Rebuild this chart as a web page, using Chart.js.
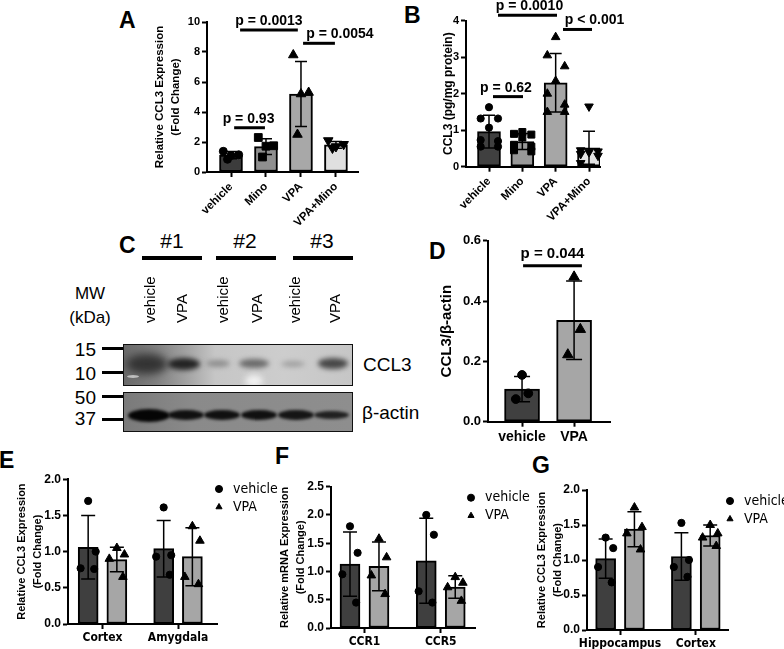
<!DOCTYPE html>
<html>
<head>
<meta charset="utf-8">
<script src="https://cdn.jsdelivr.net/npm/chart.js@4.4.1/dist/chart.umd.min.js"></script>
<style>
  body { margin: 0; background: #fff; }
  #fig { position: relative; width: 784px; height: 649px; overflow: hidden; font-family: "Liberation Sans", Arial, sans-serif; color: #000; }
  #fig canvas { position: absolute; }
  .L { position: absolute; font: bold 23px/1 "Liberation Sans", Arial, sans-serif; }
  .t { position: absolute; line-height: 1; white-space: nowrap; }
  .bar { position: absolute; background: #000; }
  .lane { position: absolute; width: 16px; height: 61px; top: 262px; font-size: 15px; line-height: 16px;
          writing-mode: vertical-rl; transform: rotate(180deg); white-space: nowrap; }
  .blot { position: absolute; box-sizing: border-box; border: 1.5px solid #111; overflow: hidden; }
  .blot i { position: absolute; border-radius: 50%; }
</style>
</head>
<body>
<div id="fig">
  <!-- letras dos paineis -->
  <div class="L" style="left:119px;top:9px">A</div>
  <div class="L" style="left:404px;top:4px">B</div>
  <div class="L" style="left:119px;top:234px">C</div>
  <div class="L" style="left:429px;top:240px">D</div>
  <div class="L" style="left:-1px;top:449px">E</div>
  <div class="L" style="left:275px;top:445px">F</div>
  <div class="L" style="left:532px;top:454px">G</div>

  <!-- painel C: western blot -->
  <div class="t" style="left:142px;top:230px;width:60px;text-align:center;font-size:21px">#1</div>
  <div class="t" style="left:215px;top:230px;width:60px;text-align:center;font-size:21px">#2</div>
  <div class="t" style="left:292px;top:230px;width:60px;text-align:center;font-size:21px">#3</div>
  <div class="bar" style="left:142px;top:256px;width:60px;height:4px"></div>
  <div class="bar" style="left:216px;top:256px;width:60px;height:4px"></div>
  <div class="bar" style="left:293px;top:256px;width:60px;height:4px"></div>

  <div class="lane" style="left:142px">vehicle</div>
  <div class="lane" style="left:174px">VPA</div>
  <div class="lane" style="left:215px">vehicle</div>
  <div class="lane" style="left:249px">VPA</div>
  <div class="lane" style="left:287px">vehicle</div>
  <div class="lane" style="left:327px">VPA</div>

  <div class="t" style="left:60px;top:285px;width:60px;text-align:center;font-size:17px">MW</div>
  <div class="t" style="left:60px;top:309px;width:60px;text-align:center;font-size:17px">(kDa)</div>

  <div class="t" style="left:56px;top:340px;width:40px;text-align:right;font-size:19px">15</div>
  <div class="t" style="left:56px;top:364px;width:40px;text-align:right;font-size:19px">10</div>
  <div class="t" style="left:56px;top:388px;width:40px;text-align:right;font-size:19px">50</div>
  <div class="t" style="left:56px;top:409px;width:40px;text-align:right;font-size:19px">37</div>
  <div class="bar" style="left:102px;top:347px;width:21px;height:3px"></div>
  <div class="bar" style="left:102px;top:371px;width:21px;height:3px"></div>
  <div class="bar" style="left:102px;top:395px;width:21px;height:3px"></div>
  <div class="bar" style="left:102px;top:418px;width:21px;height:3px"></div>

  <div class="blot" style="left:123px;top:344px;width:230px;height:42px;background:linear-gradient(90deg,#6a6a6a 0%,#808080 14%,#a4a4a4 28%,#c6c6c6 40%,#cdcdcd 70%,#c6c6c6 100%)">
    <i style="left:2px;top:9px;width:42px;height:20px;background:#333;filter:blur(4px)"></i>
    <i style="left:44px;top:13px;width:32px;height:12px;background:#232323;filter:blur(2.5px)"></i>
    <i style="left:82px;top:15px;width:24px;height:7px;background:#8e8e8e;filter:blur(2.5px)"></i>
    <i style="left:115px;top:14px;width:30px;height:9px;background:#6a6a6a;filter:blur(2.5px)"></i>
    <i style="left:157px;top:16px;width:24px;height:6px;background:#a0a0a0;filter:blur(2.5px)"></i>
    <i style="left:194px;top:13px;width:30px;height:11px;background:#474747;filter:blur(2.5px)"></i>
    <i style="left:121px;top:30px;width:18px;height:12px;background:#f2f2f2;filter:blur(3px)"></i>
    <i style="left:3px;top:30px;width:12px;height:3px;background:#bdbdbd;filter:blur(0.5px)"></i>
  </div>
  <div class="blot" style="left:123px;top:392px;width:230px;height:40px;background:linear-gradient(90deg,#7a7a7a 0%,#8a8a8a 30%,#8e8e8e 100%)">
    <i style="left:4px;top:16px;width:42px;height:13px;background:#050505;filter:blur(1.5px)"></i>
    <i style="left:44px;top:17px;width:36px;height:10px;background:#101010;filter:blur(1.5px)"></i>
    <i style="left:80px;top:17px;width:36px;height:10px;background:#101010;filter:blur(1.5px)"></i>
    <i style="left:117px;top:17px;width:36px;height:10px;background:#101010;filter:blur(1.5px)"></i>
    <i style="left:154px;top:17px;width:36px;height:10px;background:#151515;filter:blur(1.5px)"></i>
    <i style="left:190px;top:18px;width:35px;height:8px;background:#202020;filter:blur(1.5px)"></i>
  </div>
  <div class="t" style="left:363px;top:355px;font-size:19px">CCL3</div>
  <div class="t" style="left:362px;top:403px;font-size:19px">β-actin</div>

  <canvas id="cA" width="228" height="230" style="left:152px;top:0px"></canvas>
  <canvas id="cB" width="187" height="225" style="left:441px;top:0px"></canvas>
  <canvas id="cD" width="190" height="225" style="left:438px;top:225px"></canvas>
  <canvas id="cE" width="268" height="179" style="left:14px;top:470px"></canvas>
  <canvas id="cF" width="258" height="179" style="left:277px;top:470px"></canvas>
  <canvas id="cG" width="254" height="179" style="left:534px;top:470px"></canvas>
</div>

<script>
// --- A: CCL3 mRNA (fold change) ---
const aCats = ['vehicle', 'Mino', 'VPA', 'VPA+Mino'];
const aMean = [1.12, 1.69, 5.2, 1.81];
const aSD = [0.24, 0.53, 2.16, 0.22];
const aPts = [[1.38, 1.15, 1.1, 0.85], [2.3, 1.75, 1.72, 1.0], [7.8, 5.3, 5.2, 2.5], [2.1, 1.85, 1.7, 1.6]];
const aYTicks = [0, 2, 4, 6, 8, 10];
const aP = [
  { from: 1.26, to: 2.91, y: 9.47, text: 'p = 0.0013' },
  { from: 3.06, to: 3.97, y: 8.58, text: 'p = 0.0054' },
  { from: 1.09, to: 1.97, y: 2.95, text: 'p = 0.93' }
];

// --- B: CCL3 proteina ---
const bCats = ['vehicle', 'Mino', 'VPA', 'VPA+Mino'];
const bMean = [0.96, 0.69, 2.3, 0.52];
const bSD = [0.45, 0.22, 0.8, 0.45];
const bPts = [
  [1.63, 1.32, 1.32, 1.07, 0.73, 0.7, 0.55, 0.55],
  [0.95, 0.9, 0.88, 0.8, 0.6, 0.55, 0.45, 0.42],
  [3.55, 3.05, 2.75, 2.35, 2.0, 1.7, 1.5, 1.5],
  [1.65, 0.45, 0.42, 0.4, 0.35, 0.3, 0.1]
];
const bYTicks = [0, 1, 2, 3, 4];
const bP = [
  { from: 1.27, to: 3.04, y: 4.15, text: 'p = 0.0010' },
  { from: 3.22, to: 4.09, y: 3.76, text: 'p < 0.001' },
  { from: 1.12, to: 2.02, y: 1.92, text: 'p = 0.62' }
];

// --- D: CCL3/beta-actina ---
const dCats = ['vehicle', 'VPA'];
const dMean = [0.108, 0.336];
const dSD = [0.042, 0.13];
const dPts = [[0.155, 0.094, 0.075], [0.48, 0.306, 0.222]];
const dYTicks = [0, 0.2, 0.4, 0.6];
const dP = [{ from: 1.02, to: 2.15, y: 0.517, text: 'p = 0.044' }];

// --- E ---
const eCats = ['Cortex', 'Amygdala'];
const eVehMean = [1.06, 1.04];
const eVehSD = [0.44, 0.39];
const eVehPts = [[1.7, 1.0, 0.77, 0.76], [1.61, 0.95, 0.93, 0.68]];
const eVpaMean = [0.89, 0.93];
const eVpaSD = [0.17, 0.4];
const eVpaPts = [[1.05, 0.96, 0.9, 0.65], [1.35, 1.15, 0.65, 0.55]];
const eYTicks = [0, 0.5, 1, 1.5, 2];

// --- F ---
const fCats = ['CCR1', 'CCR5'];
const fVehMean = [1.13, 1.19];
const fVehSD = [0.57, 0.75];
const fVehPts = [[1.8, 1.33, 0.95, 0.45], [2.0, 1.65, 0.65, 0.45]];
const fVpaMean = [1.09, 0.725];
const fVpaSD = [0.43, 0.2];
const fVpaPts = [[1.58, 1.25, 0.93, 0.6], [0.9, 0.8, 0.72, 0.48]];
const fYTicks = [0, 0.5, 1, 1.5, 2, 2.5];

// --- G ---
const gCats = ['Hippocampus', 'Cortex'];
const gVehMean = [1.02, 1.05];
const gVehSD = [0.28, 0.34];
const gVehPts = [[1.32, 1.17, 0.9, 0.68], [1.53, 1.0, 0.9, 0.76]];
const gVpaMean = [1.44, 1.35];
const gVpaSD = [0.25, 0.15];
const gVpaPts = [[1.75, 1.47, 1.38, 1.15], [1.5, 1.38, 1.32, 1.2]];
const gYTicks = [0, 0.5, 1, 1.5, 2];

// ---------------------------------------------------------------
const sans = '"Liberation Sans", Arial, sans-serif';
const narrow = '"Liberation Sans Narrow", "Arial Narrow", "DejaVu Sans Condensed", sans-serif';
Chart.defaults.font.family = sans;
Chart.defaults.color = '#000';
Chart.defaults.animation = false;
Chart.defaults.events = [];
Chart.defaults.plugins.tooltip.enabled = false;

const SHAPE = {
  circle: { style: 'circle', r: 4, rot: 0 },
  square: { style: 'rect', r: 5.5, rot: 0 },
  tri: { style: 'triangle', r: 5.5, rot: 0 },
  triDown: { style: 'triangle', r: 5.5, rot: 180 }
};

// barras de erro (media +/- DP) desenhadas logo apos cada dataset de barras
const errorBars = {
  id: 'errorBars',
  afterDatasetDraw(chart, args, opts) {
    const ds = chart.data.datasets[args.index];
    if (!ds.sd) return;
    const y = chart.scales.y, ctx = chart.ctx, c = opts.cap;
    ctx.save();
    ctx.strokeStyle = '#000';
    ctx.lineWidth = 1.5;
    args.meta.data.forEach((bar, i) => {
      const m = ds.data[i].y;
      const top = y.getPixelForValue(m + ds.sd[i]);
      const bot = y.getPixelForValue(Math.max(0, m - ds.sd[i]));
      ctx.beginPath();
      ctx.moveTo(bar.x, top); ctx.lineTo(bar.x, bot);
      ctx.moveTo(bar.x - c, top); ctx.lineTo(bar.x + c, top);
      ctx.moveTo(bar.x - c, bot); ctx.lineTo(bar.x + c, bot);
      ctx.stroke();
    });
    ctx.restore();
  }
};

// linhas de comparacao com o valor de p
const brackets = {
  id: 'brackets',
  afterDraw(chart, args, opts) {
    if (!opts.items) return;
    const { ctx, scales: { x, y } } = chart;
    ctx.save();
    ctx.font = 'bold ' + opts.size + 'px ' + sans;
    ctx.fillStyle = '#000';
    ctx.strokeStyle = '#000';
    ctx.lineWidth = 3;
    ctx.textAlign = 'center';
    ctx.textBaseline = 'alphabetic';
    opts.items.forEach((b, k) => {
      const x1 = x.getPixelForValue(b.from), x2 = x.getPixelForValue(b.to);
      const py = y.getPixelForValue(b.y);
      ctx.beginPath(); ctx.moveTo(x1, py); ctx.lineTo(x2, py); ctx.stroke();
      ctx.fillText(b.text, (x1 + x2) / 2 + (opts.shift[k] || 0), py - opts.gap);
    });
    ctx.restore();
  }
};

// legenda do Prism fica encostada no fim do eixo x; alarga a caixa p/ nao cortar o texto
const legendNudge = {
  id: 'legendNudge',
  afterLayout(chart, args, opts) {
    const l = chart.legend;
    if (!l || !opts.dx) return;
    l.left += opts.dx;
    l.right = l.left + 90;
    l.width = 90;
  }
};

function panel(id, cfg) {
  const shapeOf = (s, c) => SHAPE[Array.isArray(s.shape) ? s.shape[c.raw ? c.raw.g : 0] : s.shape];
  const datasets = [];
  cfg.series.forEach(s => {
    datasets.push({
      type: 'bar', label: s.label, order: 2, grouped: false,
      data: s.mean.map((m, i) => ({ x: i + 1 + s.dx, y: m })),
      sd: s.sd,
      backgroundColor: s.color, borderColor: '#000', borderWidth: 2, borderSkipped: false,
      barThickness: cfg.barW
    });
  });
  cfg.series.forEach(s => {
    const pts = [];
    s.pts.forEach((grp, i) => grp.forEach((v, j) => {
      pts.push({ x: i + 1 + s.dx + cfg.jit[j % cfg.jit.length], y: v, g: i });
    }));
    datasets.push({
      type: 'scatter', label: s.label, order: 1, data: pts, clip: false,
      backgroundColor: '#000', borderColor: '#000',
      pointStyle: c => shapeOf(s, c).style,
      pointRadius: c => shapeOf(s, c).r * cfg.ptScale,
      pointRotation: c => shapeOf(s, c).rot,
      pointBackgroundColor: '#000', pointBorderColor: '#000', pointBorderWidth: 1
    });
  });

  const axisGrid = { drawOnChartArea: false, tickLength: 5, tickWidth: 2, color: '#000', offset: false };
  const axisBorder = { color: '#000', width: 2 };

  new Chart(document.getElementById(id), {
    type: 'bar',
    data: { datasets },
    options: {
      responsive: false,
      layout: { padding: { left: 0, top: cfg.pt, right: cfg.pr, bottom: 0 } },
      scales: {
        x: {
          type: 'linear', offset: false, min: cfg.xMin, max: cfg.xMax,
          afterBuildTicks: s => { s.ticks = cfg.cats.map((c, i) => ({ value: i + 1 })); },
          afterFit: s => { s.height = cfg.hx; },
          ticks: {
            callback: v => cfg.cats[Math.round(v) - 1],
            font: cfg.xFont, color: '#000', padding: cfg.xPad,
            minRotation: cfg.rot, maxRotation: cfg.rot, autoSkip: false
          },
          grid: axisGrid, border: axisBorder
        },
        y: {
          min: 0, max: cfg.yMax,
          afterBuildTicks: s => { s.ticks = cfg.yTicks.map(v => ({ value: v })); },
          afterFit: s => { s.width = cfg.wy; },
          ticks: { callback: v => v.toFixed(cfg.dec), font: cfg.yFont, color: '#000', padding: 2 },
          grid: axisGrid, border: axisBorder,
          title: { display: true, text: cfg.yTitle, font: cfg.titleFont, color: '#000', padding: 0 }
        }
      },
      plugins: {
        legend: cfg.legend ? {
          display: true, position: 'right', align: 'start', maxWidth: 60,
          labels: {
            usePointStyle: true, boxWidth: 14, boxHeight: 5, padding: 4, color: '#000',
            font: { family: narrow, size: 14 },
            filter: (item, data) => data.datasets[item.datasetIndex].type === 'scatter'
          }
        } : { display: false },
        legendNudge: { dx: cfg.legendDx || 0 },
        errorBars: { cap: cfg.cap },
        brackets: cfg.brackets || {}
      }
    },
    plugins: [errorBars, brackets, legendNudge]
  });
}

const boldTick = size => ({ size, weight: 'bold', family: sans });

panel('cA', {
  cats: aCats,
  series: [{ label: 'CCL3', mean: aMean, sd: aSD, pts: aPts, dx: 0,
             color: ['#3c3c3c', '#8f8f8f', '#a8a8a8', '#e0e0e0'], shape: ['circle', 'square', 'tri', 'triDown'] }],
  yTicks: aYTicks, yMax: 10, dec: 0,
  xMin: 0.314, xMax: 4.63, pt: 22, pr: 22, wy: 55, hx: 58, barW: 23, cap: 6,
  jit: [-0.22, 0.22, 0, -0.1], ptScale: 1, rot: 45, xPad: 3,
  xFont: boldTick(11.5), yFont: boldTick(11),
  yTitle: ['Relative CCL3 Expression', '(Fold Change)'],
  titleFont: { size: 11.5, weight: 'bold', lineHeight: 16 / 11.5 },
  brackets: { items: aP, size: 14, gap: 5, shift: [0, 21, -1] }
});

panel('cB', {
  cats: bCats,
  series: [{ label: 'CCL3', mean: bMean, sd: bSD, pts: bPts, dx: 0,
             color: ['#404040', '#999999', '#a6a6a6', '#e4e4e4'], shape: ['circle', 'square', 'tri', 'triDown'] }],
  yTicks: bYTicks, yMax: 4, dec: 0,
  xMin: 0.31, xMax: 4.33, pt: 20.7, pr: 28, wy: 25, hx: 58.3, barW: 23, cap: 6,
  jit: [0, -0.25, 0.27, 0, -0.25, 0.27, -0.25, 0.27], ptScale: 0.9, rot: 45, xPad: 3,
  xFont: boldTick(11.5), yFont: boldTick(11),
  yTitle: 'CCL3 (pg/mg protein)',
  titleFont: { size: 12, weight: 'bold', lineHeight: 16 / 12 },
  brackets: { items: bP, size: 14, gap: 5, shift: [2, 17, -2] }
});

panel('cD', {
  cats: dCats,
  series: [{ label: 'CCL3', mean: dMean, sd: dSD, pts: dPts, dx: 0,
             color: ['#404040', '#a6a6a6'], shape: ['circle', 'tri'] }],
  yTicks: dYTicks, yMax: 0.6, dec: 1,
  xMin: 0.346, xMax: 2.69, pt: 15.7, pr: 18, wy: 50, hx: 28.3, barW: 35, cap: 8,
  jit: [0, 0.12, -0.12], ptScale: 1.1, rot: 0, xPad: 2,
  xFont: boldTick(14), yFont: boldTick(13),
  yTitle: 'CCL3/β-actin',
  titleFont: { size: 15, weight: 'bold', lineHeight: 18 / 15 },
  brackets: { items: dP, size: 15, gap: 8, shift: [0] }
});

function groupedPanel(id, cats, veh, vpa, extra) {
  panel(id, Object.assign({
    cats,
    series: [
      { label: 'vehicle', mean: veh[0], sd: veh[1], pts: veh[2], dx: -0.19, color: '#3f3f3f', shape: 'circle' },
      { label: 'VPA', mean: vpa[0], sd: vpa[1], pts: vpa[2], dx: 0.19, color: '#a6a6a6', shape: 'tri' }
    ],
    dec: 1, barW: 20, cap: 7, jit: [0, 0.1, -0.1, 0.08], ptScale: 0.9, rot: 0, xPad: 2,
    xFont: { size: 12, weight: 'bold', family: narrow }, yFont: boldTick(12),
    titleFont: { size: 11, weight: 'bold', lineHeight: 16 / 11 },
    legend: true
  }, extra));
}

groupedPanel('cE', eCats, [eVehMean, eVehSD, eVehPts], [eVpaMean, eVpaSD, eVpaPts], {
  yTicks: eYTicks, yMax: 2, xMin: 0.543, xMax: 2.516, pt: 8, pr: 5, wy: 54, hx: 25, legendDx: -9,
  yTitle: ['Relative CCL3 Expression', '(Fold Change)']
});

groupedPanel('cF', fCats, [fVehMean, fVehSD, fVehPts], [fVpaMean, fVpaSD, fVpaPts], {
  yTicks: fYTicks, yMax: 2.5, xMin: 0.561, xMax: 2.449, pt: 16.7, pr: 0, wy: 54, hx: 21, legendDx: -15,
  yTitle: ['Relative mRNA Expression', '(Fold Change)']
});

groupedPanel('cG', gCats, [gVehMean, gVehSD, gVehPts], [gVpaMean, gVpaSD, gVpaPts], {
  yTicks: gYTicks, yMax: 2, xMin: 0.564, xMax: 2.425, pt: 20, pr: 0, wy: 53, hx: 19, legendDx: -9,
  yTitle: ['Relative CCL3 Expression', '(Fold Change)']
});
</script>
</body>
</html>
